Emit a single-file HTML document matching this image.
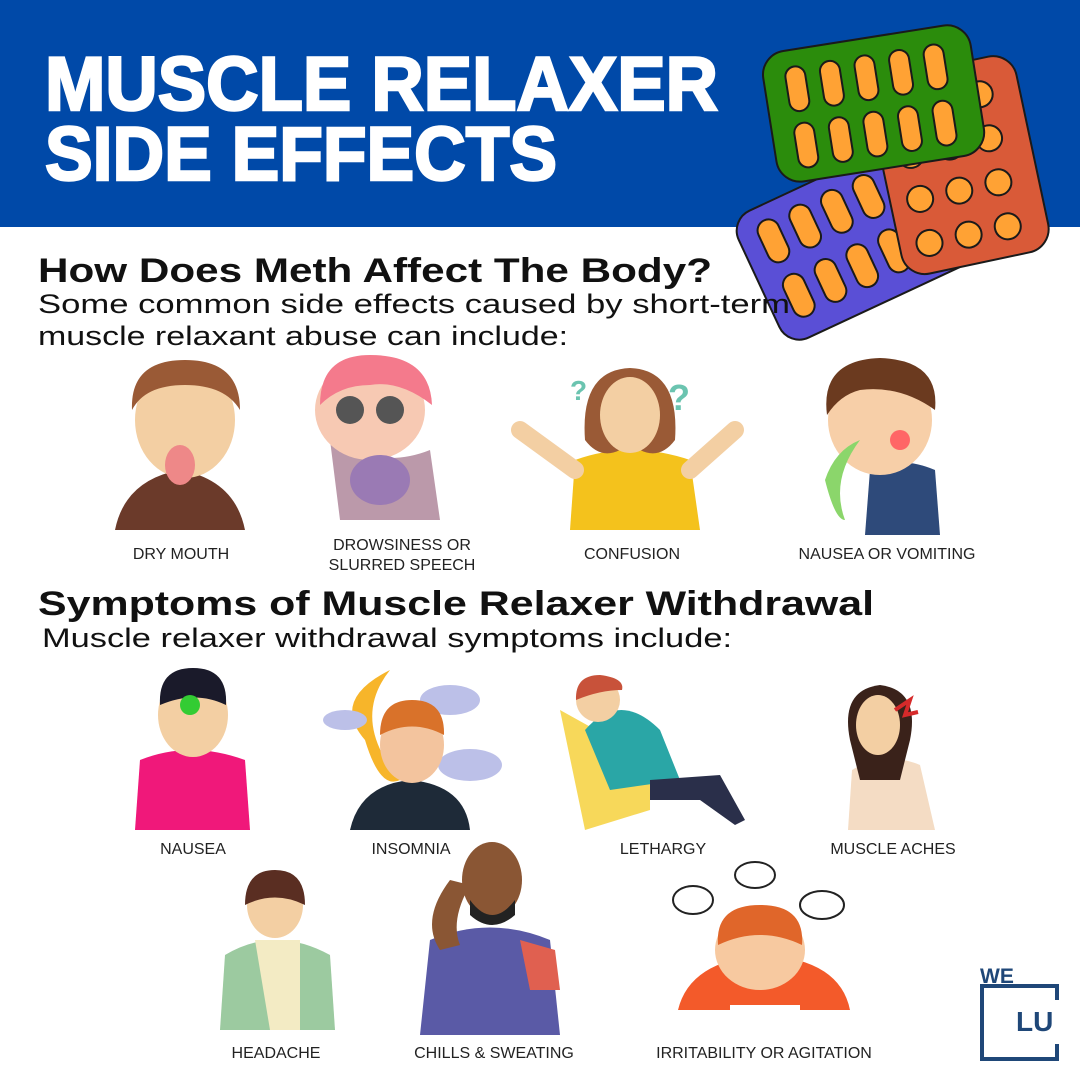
<!DOCTYPE html>
<html><head><meta charset="utf-8"><style>
html,body{margin:0;padding:0;background:#fff}
svg{display:block}
text{font-family:"Liberation Sans",sans-serif}
.t{font-weight:bold;fill:#fff;stroke:#fff;stroke-width:2.5}
.h{font-weight:bold;fill:#111}
.s{fill:#111}
.l{fill:#222;font-size:16px}
</style></head><body>
<svg width="1080" height="1080" viewBox="0 0 1080 1080" xmlns="http://www.w3.org/2000/svg">
<rect width="1080" height="227" fill="#0049a8"/>
<text class="t" x="45" y="110" font-size="76" textLength="673" lengthAdjust="spacingAndGlyphs">MUSCLE RELAXER</text>
<text class="t" x="45" y="180" font-size="76" textLength="512" lengthAdjust="spacingAndGlyphs">SIDE EFFECTS</text>

<g stroke="#1a1a1a" stroke-width="2">
 <g transform="rotate(-25 850 230)">
  <rect x="745" y="170" width="210" height="140" rx="22" fill="#5a4fd6"/>
  <g fill="#ffa234">
   <rect x="765" y="185" width="22" height="45" rx="11"/><rect x="800" y="185" width="22" height="45" rx="11"/><rect x="835" y="185" width="22" height="45" rx="11"/><rect x="870" y="185" width="22" height="45" rx="11"/>
   <rect x="765" y="245" width="22" height="45" rx="11"/><rect x="800" y="245" width="22" height="45" rx="11"/><rect x="835" y="245" width="22" height="45" rx="11"/><rect x="870" y="245" width="22" height="45" rx="11"/>
  </g>
 </g>
 <g transform="rotate(-12 960 170)">
  <rect x="885" y="65" width="150" height="200" rx="24" fill="#d95a38"/>
  <g fill="#ffa234">
   <circle cx="915" cy="100" r="13"/><circle cx="955" cy="100" r="13"/><circle cx="995" cy="100" r="13"/>
   <circle cx="915" cy="145" r="13"/><circle cx="955" cy="145" r="13"/><circle cx="995" cy="145" r="13"/>
   <circle cx="915" cy="190" r="13"/><circle cx="955" cy="190" r="13"/><circle cx="995" cy="190" r="13"/>
   <circle cx="915" cy="235" r="13"/><circle cx="955" cy="235" r="13"/><circle cx="995" cy="235" r="13"/>
  </g>
 </g>
 <g transform="rotate(-9 870 100)">
  <rect x="768" y="38" width="210" height="132" rx="24" fill="#2b8c0c"/>
  <g fill="#ffa234">
   <rect x="790" y="55" width="20" height="45" rx="10"/><rect x="825" y="55" width="20" height="45" rx="10"/><rect x="860" y="55" width="20" height="45" rx="10"/><rect x="895" y="55" width="20" height="45" rx="10"/><rect x="930" y="55" width="20" height="45" rx="10"/>
   <rect x="790" y="112" width="20" height="45" rx="10"/><rect x="825" y="112" width="20" height="45" rx="10"/><rect x="860" y="112" width="20" height="45" rx="10"/><rect x="895" y="112" width="20" height="45" rx="10"/><rect x="930" y="112" width="20" height="45" rx="10"/>
  </g>
 </g>
</g>

<text class="h" x="38" y="282" font-size="34" textLength="674" lengthAdjust="spacingAndGlyphs">How Does Meth Affect The Body?</text>
<text class="s" x="38" y="313" font-size="27" textLength="752" lengthAdjust="spacingAndGlyphs">Some common side effects caused by short-term</text>
<text class="s" x="38" y="345" font-size="27" textLength="530" lengthAdjust="spacingAndGlyphs">muscle relaxant abuse can include:</text>

<g>
 <path d="M115 530 Q125 480 180 470 Q235 480 245 530Z" fill="#6b3a2a"/>
 <ellipse cx="185" cy="420" rx="50" ry="58" fill="#f3cfa3"/>
 <path d="M132 410 Q130 360 185 360 Q240 360 240 410 Q225 385 185 385 Q145 385 132 410Z" fill="#9a5a36"/>
 <ellipse cx="180" cy="465" rx="15" ry="20" fill="#e88"/>
</g>
<g>
 <path d="M330 440 Q380 470 430 450 L440 520 L340 520Z" fill="#b9a" />
 <ellipse cx="370" cy="410" rx="55" ry="50" fill="#f7c9b3"/>
 <path d="M320 405 Q320 355 370 355 Q430 355 432 405 Q400 380 370 385 Q340 385 320 405Z" fill="#f47a8c"/>
 <circle cx="350" cy="410" r="14" fill="#555"/><circle cx="390" cy="410" r="14" fill="#555"/>
 <ellipse cx="380" cy="480" rx="30" ry="25" fill="#9a7ab4"/>
</g>
<g>
 <path d="M570 530 L575 460 Q630 440 690 460 L700 530Z" fill="#f4c21c"/>
 <path d="M520 430 L575 470 M735 430 L690 470" stroke="#f3cfa3" stroke-width="18" stroke-linecap="round"/>
 <path d="M585 440 Q580 370 630 368 Q680 370 675 440 Q660 460 640 450 L620 450 Q600 460 585 440Z" fill="#9a5a36"/>
 <ellipse cx="630" cy="415" rx="30" ry="38" fill="#f3cfa3"/>
 <text x="570" y="400" font-size="28" fill="#6bc4b0" font-weight="bold">?</text>
 <text x="668" y="410" font-size="36" fill="#6bc4b0" font-weight="bold">?</text>
</g>
<g>
 <path d="M865 535 L870 470 Q900 455 935 470 L940 535Z" fill="#2e4a7a"/>
 <ellipse cx="880" cy="420" rx="52" ry="55" fill="#f7cfa8"/>
 <path d="M827 415 Q820 360 880 358 Q940 360 935 410 Q900 385 860 390 Q840 395 827 415Z" fill="#6b3a1f"/>
 <path d="M860 440 Q830 480 845 520 Q835 520 825 480 Q835 450 860 440Z" fill="#8bd66b"/>
 <circle cx="900" cy="440" r="10" fill="#f66"/>
</g>

<text class="l" x="181" y="559" text-anchor="middle">DRY MOUTH</text>
<text class="l" x="402" y="550" text-anchor="middle">DROWSINESS OR</text>
<text class="l" x="402" y="570" text-anchor="middle">SLURRED SPEECH</text>
<text class="l" x="632" y="559" text-anchor="middle">CONFUSION</text>
<text class="l" x="887" y="559" text-anchor="middle">NAUSEA OR VOMITING</text>

<text class="h" x="38" y="615" font-size="34" textLength="836" lengthAdjust="spacingAndGlyphs">Symptoms of Muscle Relaxer Withdrawal</text>
<text class="s" x="42" y="647" font-size="27" textLength="690" lengthAdjust="spacingAndGlyphs">Muscle relaxer withdrawal symptoms include:</text>

<g>
 <path d="M135 830 L140 760 Q190 740 245 760 L250 830Z" fill="#f0187a"/>
 <ellipse cx="193" cy="715" rx="35" ry="42" fill="#f3cfa3"/>
 <path d="M160 705 Q158 668 193 668 Q228 668 226 705 Q195 690 160 705Z" fill="#1a1a2a"/>
 <circle cx="190" cy="705" r="10" fill="#3c3"/>
</g>
<g>
 <path d="M365 740 Q330 700 390 670 Q350 720 400 780 Q380 790 365 740Z" fill="#f7b52a"/>
 <ellipse cx="450" cy="700" rx="30" ry="15" fill="#bcc0e8"/>
 <ellipse cx="470" cy="765" rx="32" ry="16" fill="#bcc0e8"/>
 <ellipse cx="345" cy="720" rx="22" ry="10" fill="#bcc0e8"/>
 <path d="M350 830 Q360 785 410 780 Q465 785 470 830Z" fill="#1e2a38"/>
 <ellipse cx="412" cy="745" rx="32" ry="38" fill="#f3c49e"/>
 <path d="M380 735 Q380 700 412 700 Q445 700 444 735 Q412 718 380 735Z" fill="#d9722a"/>
</g>
<g>
 <path d="M560 710 L585 830 L650 810 L650 760 Z" fill="#f7d85a"/>
 <path d="M585 730 Q620 690 660 730 L680 780 L610 790Z" fill="#2aa6a6"/>
 <path d="M650 780 L720 775 L745 820 L735 825 L700 800 L650 800Z" fill="#2a2f4a"/>
 <circle cx="598" cy="700" r="22" fill="#f3cfa3"/>
 <path d="M576 700 Q575 675 600 675 Q625 678 622 690 Q600 690 576 700Z" fill="#c8523a"/>
</g>
<g>
 <path d="M848 830 L852 770 Q885 750 920 765 L935 830Z" fill="#f4dcc4"/>
 <path d="M850 740 Q840 690 880 685 Q920 690 910 740 L900 780 L860 780Z" fill="#3a221a"/>
 <ellipse cx="878" cy="725" rx="22" ry="30" fill="#f3cfa3"/>
 <path d="M895 710 L910 700 L905 715 L918 712" stroke="#d62a2a" stroke-width="4" fill="none"/>
</g>

<text class="l" x="193" y="854" text-anchor="middle">NAUSEA</text>
<text class="l" x="411" y="854" text-anchor="middle">INSOMNIA</text>
<text class="l" x="663" y="854" text-anchor="middle">LETHARGY</text>
<text class="l" x="893" y="854" text-anchor="middle">MUSCLE ACHES</text>

<g>
 <path d="M220 1030 L225 955 Q275 925 330 955 L335 1030Z" fill="#9ccaa0"/>
 <path d="M255 940 L300 940 L300 1030 L270 1030Z" fill="#f3ebc4"/>
 <ellipse cx="275" cy="905" rx="28" ry="33" fill="#f3cfa3"/>
 <path d="M245 905 Q245 870 275 870 Q305 870 305 905 Q275 890 245 905Z" fill="#5a2e22"/>
</g>
<g>
 <path d="M420 1035 L430 940 Q490 915 550 940 L560 1035Z" fill="#5a5aa6"/>
 <path d="M520 940 L555 950 L560 990 L530 990Z" fill="#e06050"/>
 <path d="M440 950 Q420 920 450 880 L470 885 Q450 920 460 945Z" fill="#8a5634"/>
 <ellipse cx="492" cy="880" rx="30" ry="38" fill="#8a5634"/>
 <path d="M470 900 Q492 930 515 900 L515 915 Q492 935 470 915Z" fill="#222"/>
</g>
<g>
 <path d="M678 1010 Q690 960 765 955 Q840 960 850 1010Z" fill="#f35a2a"/>
 <rect x="730" y="1005" width="70" height="35" fill="#fff"/>
 <ellipse cx="760" cy="950" rx="45" ry="40" fill="#f7c9a0"/>
 <path d="M718 945 Q715 905 760 905 Q805 905 802 945 Q760 925 718 945Z" fill="#e0662a"/>
 <g fill="#fff" stroke="#222" stroke-width="2">
  <ellipse cx="693" cy="900" rx="20" ry="14"/><ellipse cx="755" cy="875" rx="20" ry="13"/><ellipse cx="822" cy="905" rx="22" ry="14"/>
 </g>
</g>

<text class="l" x="276" y="1058" text-anchor="middle">HEADACHE</text>
<text class="l" x="494" y="1058" text-anchor="middle">CHILLS &amp; SWEATING</text>
<text class="l" x="764" y="1058" text-anchor="middle">IRRITABILITY OR AGITATION</text>

<text x="980" y="983" font-size="21" font-weight="bold" fill="#1f4778">WE</text>
<path d="M1057 1000 L1057 986 L982 986 L982 1059 L1057 1059 L1057 1044" fill="none" stroke="#1f4778" stroke-width="4"/>
<text x="1016" y="1031" font-size="28" font-weight="bold" fill="#1f4778">LU</text>
</svg>
</body></html>
